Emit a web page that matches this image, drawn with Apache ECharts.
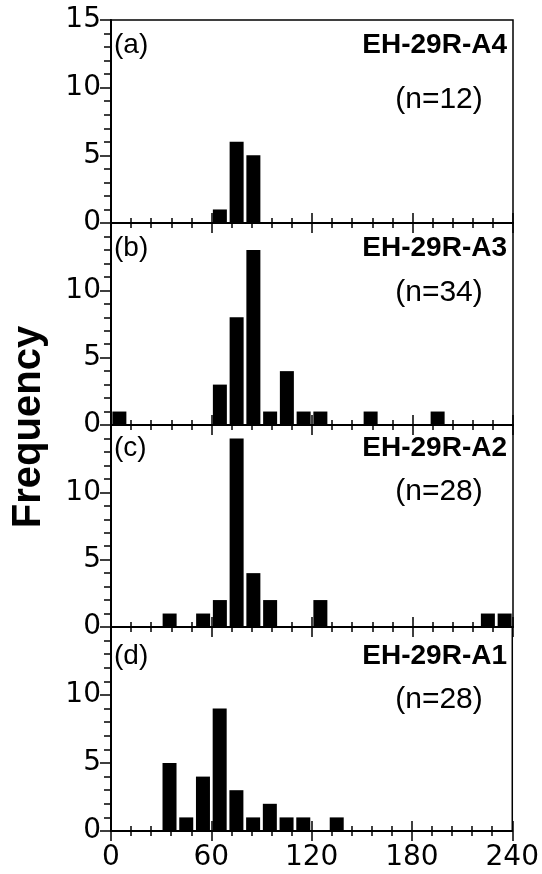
<!DOCTYPE html>
<html>
<head>
<meta charset="utf-8">
<script src="https://cdn.jsdelivr.net/npm/echarts@6/dist/echarts.min.js"></script>
<style>
  html, body { margin: 0; padding: 0; background: #fff; }
  #chart { width: 542px; height: 874px; }
</style>
</head>
<body>
<div id="chart"></div>
<script>
// Grain-size histograms, four samples stacked top to bottom
const xTickValues = [0, 60, 120, 180, 240];
const yTickValues = [0, 5, 10, 15];

const panelTags   = ['(a)', '(b)', '(c)', '(d)'];
const sampleNames = ['EH-29R-A4', 'EH-29R-A3', 'EH-29R-A2', 'EH-29R-A1'];
const sampleSizes = ['(n=12)', '(n=34)', '(n=28)', '(n=28)'];

// bin centres and counts per sample
const binsA4 = [65, 75, 85];
const freqA4 = [1, 6, 5];

const binsA3 = [5, 65, 75, 85, 95, 105, 115, 125, 155, 195];
const freqA3 = [1, 3, 8, 13, 1, 4, 1, 1, 1, 1];

const binsA2 = [35, 55, 65, 75, 85, 95, 125, 225, 235];
const freqA2 = [1, 1, 2, 14, 4, 2, 2, 1, 1];

const binsA1 = [35, 45, 55, 65, 75, 85, 95, 105, 115, 135];
const freqA1 = [5, 1, 4, 9, 3, 1, 2, 1, 1, 1];

const panelBins = [binsA4, binsA3, binsA2, binsA1];
const panelFreq = [freqA4, freqA3, freqA2, freqA1];

const chart = echarts.init(document.getElementById('chart'));

const gridLeft = 111, gridRight = 29;
const gridTops = [20, 223, 425, 627];
const gridHeights = [203, 202, 202, 204];
const plotRight = 542 - gridRight;
// vertical placement of the in-panel captions, measured from each panel's top edge
const nameOffsets = [25, 25, 23, 29];
const sizeOffsets = [80, 70, 67, 73];

const tickFont = '"DejaVu Sans", sans-serif';
const black = '#000';

const grids = [], xAxes = [], yAxes = [], series = [], graphics = [];

for (let i = 0; i < 4; i++) {
  const last = i === 3;
  grids.push({
    left: gridLeft, right: gridRight, top: gridTops[i], height: gridHeights[i],
    show: true, borderColor: black, borderWidth: 1.5, backgroundColor: 'transparent'
  });
  const xBase = {
    gridIndex: i, type: 'value', min: xTickValues[0], max: xTickValues[xTickValues.length - 1],
    interval: 60, position: 'bottom', splitLine: { show: false }
  };
  // ticks pointing into the plot
  xAxes.push(Object.assign({}, xBase, {
    axisLine: { show: true, onZero: false, lineStyle: { color: black, width: 2 } },
    axisTick: { show: true, inside: true, length: 10, lineStyle: { color: black, width: 1.5 } },
    minorTick: { show: true, splitNumber: 5, length: 5, lineStyle: { color: black, width: 1.5 } },
    axisLabel: { show: false }
  }));
  // ticks pointing out of the plot, with labels on the bottom panel
  xAxes.push(Object.assign({}, xBase, {
    axisLine: { show: false, onZero: false },
    axisTick: { show: true, inside: false, length: 10, lineStyle: { color: black, width: 1.5 } },
    minorTick: { show: true, splitNumber: 5, length: 5, lineStyle: { color: black, width: 1.5 } },
    axisLabel: {
      show: last, margin: 13, color: black, fontFamily: tickFont, fontSize: 28,
      customValues: xTickValues
    }
  }));
  yAxes.push({
    gridIndex: i, type: 'value', min: 0, max: 15, interval: 5,
    splitLine: { show: false },
    axisLine: { show: true, onZero: false, lineStyle: { color: black, width: 2 } },
    axisTick: { show: true, inside: false, length: 11, lineStyle: { color: black, width: 1.5 } },
    minorTick: { show: true, splitNumber: 5, length: 7, lineStyle: { color: black, width: 1.5 } },
    axisLabel: {
      show: true, margin: 10, color: black, fontFamily: tickFont, fontSize: 28,
      showMaxLabel: i === 0, showMinLabel: true
    }
  });
  series.push({
    type: 'bar', xAxisIndex: i * 2, yAxisIndex: i,
    data: panelBins[i].map((b, k) => [b, panelFreq[i][k]]),
    barWidth: 14, itemStyle: { color: black }, silent: true, animation: false
  });

  const top = gridTops[i];
  graphics.push({
    type: 'text', x: gridLeft + 3, y: top + nameOffsets[i],
    style: { text: panelTags[i], font: '28px "Liberation Sans"', fill: black, align: 'left', verticalAlign: 'middle' }
  });
  graphics.push({
    type: 'text', x: plotRight - 6, y: top + nameOffsets[i],
    style: { text: sampleNames[i], font: 'bold 28px "Liberation Sans"', fill: black, align: 'right', verticalAlign: 'middle' }
  });
  graphics.push({
    type: 'text', x: 439, y: top + sizeOffsets[i],
    style: { text: sampleSizes[i], font: '30px "Liberation Sans"', fill: black, align: 'center', verticalAlign: 'middle' }
  });
}

graphics.push({
  type: 'text', x: 29, y: 427, rotation: Math.PI / 2,
  style: { text: 'Frequency', font: 'bold 40px "Liberation Sans"', fill: black, align: 'center', verticalAlign: 'middle' }
});

chart.setOption({
  animation: false,
  backgroundColor: '#fff',
  grid: grids,
  xAxis: xAxes,
  yAxis: yAxes,
  series: series,
  graphic: graphics
});
</script>
</body>
</html>
